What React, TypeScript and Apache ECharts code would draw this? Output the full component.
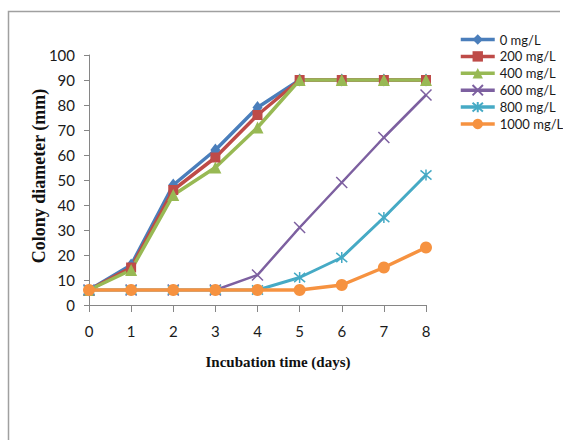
import React, { useEffect, useRef } from "react";
import * as echarts from "echarts";

// Incubation days on the x axis
const days = ["0", "1", "2", "3", "4", "5", "6", "7", "8"];

// Colony diameter (mm) for each concentration
const seriesNames = ["0 mg/L", "200 mg/L", "400 mg/L", "600 mg/L", "800 mg/L", "1000 mg/L"];
const dose0 = [6, 16, 48, 62, 79, 90, 90, 90, 90];
const dose200 = [6, 15, 46, 59, 76, 90, 90, 90, 90];
const dose400 = [6, 14, 44, 55, 71, 90, 90, 90, 90];
const dose600 = [6, 6, 6, 6, 12, 31, 49, 67, 84];
const dose800 = [6, 6, 6, 6, 6, 11, 19, 35, 52];
const dose1000 = [6, 6, 6, 6, 6, 6, 8, 15, 23];

const colors = ["#4A7EBB", "#BE4B48", "#98B954", "#7D60A0", "#46AAC5", "#F69240"];

const X_MARK = "path://M0 0L10 10M10 0L0 10";
const STAR_MARK = "path://M0 0L10 10M10 0L0 10M5 -1L5 11";

export default function App() {
  const ref = useRef<HTMLDivElement>(null);

  useEffect(() => {
    if (!ref.current) return;
    const chart = echarts.init(ref.current, null, { renderer: "svg" });
    const labelFont = "Lato, 'Open Sans', sans-serif";

    const filled = (i: number, data: number[], symbol: string, size: number | number[], width = 3.5) => ({
      name: seriesNames[i],
      type: "line",
      data,
      symbol,
      symbolSize: size,
      lineStyle: { color: colors[i], width },
      itemStyle: { color: colors[i] },
    });
    const stroked = (i: number, data: number[], symbol: string, size: number, width = 3) => ({
      name: seriesNames[i],
      type: "line",
      data,
      symbol,
      symbolSize: size,
      lineStyle: { color: colors[i], width },
      itemStyle: { color: "rgba(0,0,0,0)", borderColor: colors[i], borderWidth: 1.5 },
    });

    chart.setOption({
      animation: false,
      backgroundColor: "#ffffff",
      grid: { left: 89, right: 137, top: 55, bottom: 135 },
      legend: {
        orient: "vertical",
        left: 459,
        top: 33,
        padding: 0,
        itemWidth: 34,
        itemHeight: 13,
        itemGap: 3.9,
        lineStyle: { width: 3.5 },
        textStyle: { fontFamily: labelFont, fontSize: 13, color: "#1a1a1a" },
        data: seriesNames,
      },
      xAxis: {
        type: "category",
        data: days,
        boundaryGap: false,
        axisLine: { lineStyle: { color: "#868686", width: 1 } },
        axisTick: { show: true, length: 7, lineStyle: { color: "#868686" } },
        axisLabel: { fontFamily: labelFont, fontSize: 15, color: "#1a1a1a", margin: 18 },
      },
      yAxis: {
        type: "value",
        min: 0,
        max: 100,
        interval: 10,
        splitLine: { show: false },
        axisLine: { show: true, lineStyle: { color: "#868686", width: 1 } },
        axisTick: { show: true, length: 5, lineStyle: { color: "#868686" } },
        axisLabel: { fontFamily: labelFont, fontSize: 15, color: "#1a1a1a", margin: 14 },
      },
      graphic: [
        {
          type: "polyline",
          shape: { points: [[8.5, 445], [8.5, 11.5], [560, 11.5]] },
          style: { stroke: "#a0a0a0", lineWidth: 1.5, fill: "none" },
          silent: true,
        },
        {
          type: "text",
          x: 39,
          y: 176,
          rotation: Math.PI / 2,
          style: {
            text: "Colony diameter (mm)",
            font: "bold 18px 'Liberation Serif', 'Times New Roman', serif",
            fill: "#111",
            align: "center",
            verticalAlign: "middle",
          },
        },
        {
          type: "text",
          x: 278,
          y: 362,
          style: {
            text: "Incubation time (days)",
            font: "bold 15px 'Liberation Serif', 'Times New Roman', serif",
            fill: "#111",
            align: "center",
            verticalAlign: "middle",
          },
        },
      ],
      series: [
        filled(0, dose0, "diamond", [10, 13]),
        filled(1, dose200, "rect", 10),
        filled(2, dose400, "triangle", 12),
        stroked(3, dose600, X_MARK, 11, 2.5),
        stroked(4, dose800, STAR_MARK, 11, 3),
        filled(5, dose1000, "circle", 12),
      ],
    });

    return () => chart.dispose();
  }, []);

  return (
    <div
      ref={ref}
      style={{ position: "fixed", left: 0, top: 0, width: 563, height: 440 }}
    />
  );
}
